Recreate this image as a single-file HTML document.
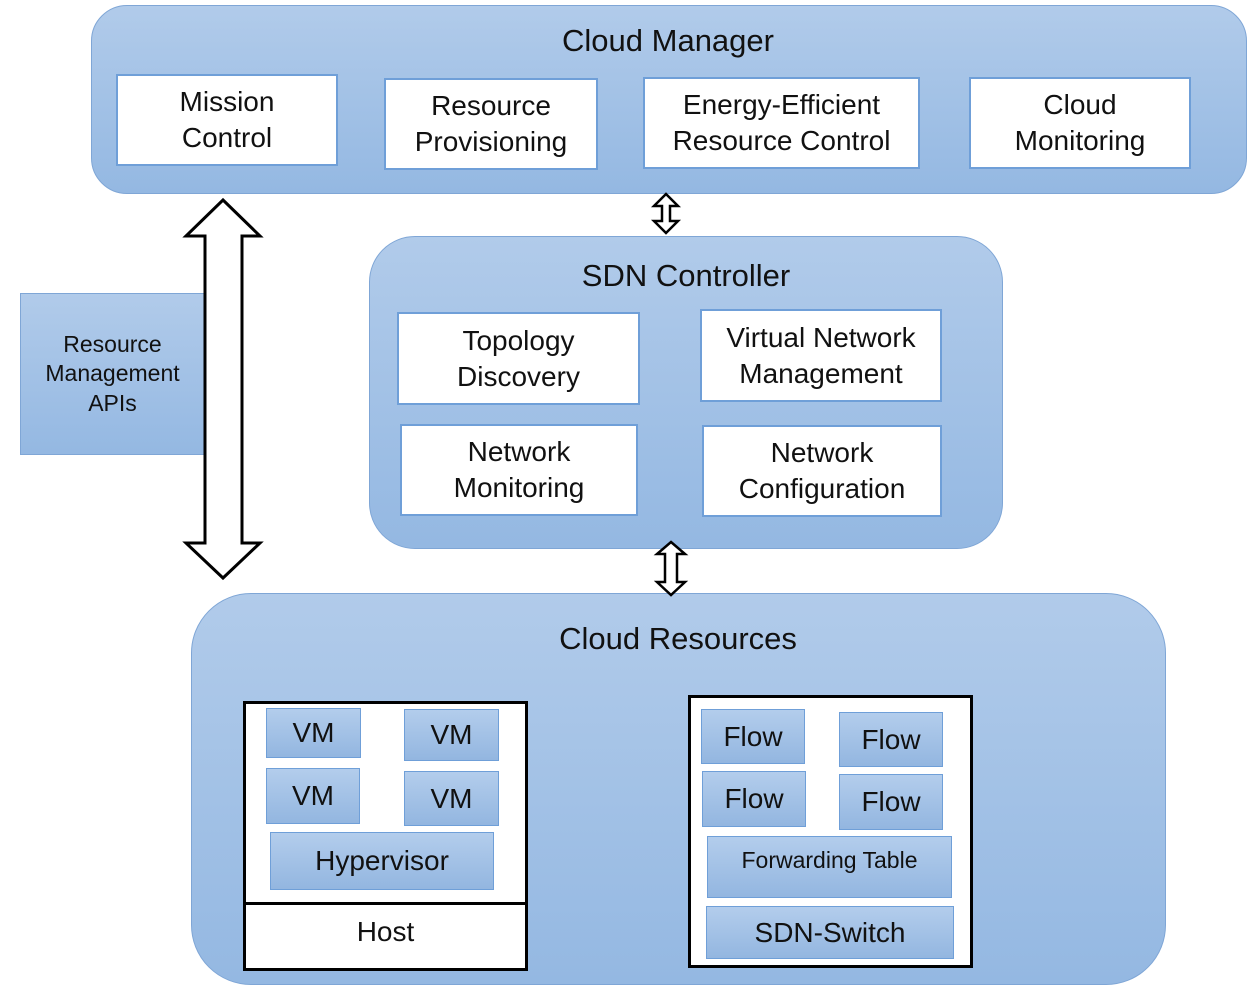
<!DOCTYPE html>
<html><head><meta charset="utf-8"><style>
body{margin:0;width:1260px;height:1006px;background:#fff;position:relative;overflow:hidden;font-family:"Liberation Sans",Arial,sans-serif;color:#111}
.a{position:absolute;box-sizing:border-box;display:flex;align-items:center;justify-content:center;text-align:center;line-height:1.27}
.big{background:linear-gradient(#b1cbea,#94b8e2);border:1px solid #7fa6d6}
.w{background:#fff;border:2px solid #6f9fd8;font-size:28px}
.b{background:linear-gradient(#b3cdec,#93b6e0);border:1px solid #6f9fd8;font-size:28px}
.t{position:absolute;font-size:31px;text-align:center;transform:translateX(-50%);white-space:nowrap}
</style></head><body>
<div class="a big" style="left:91px;top:5px;width:1156px;height:189px;border-radius:36px"></div>
<div class="t" style="left:668px;top:23px">Cloud Manager</div>
<div class="a w" style="left:116px;top:74px;width:222px;height:92px">Mission<br>Control</div>
<div class="a w" style="left:384px;top:78px;width:214px;height:92px">Resource<br>Provisioning</div>
<div class="a w" style="left:643px;top:77px;width:277px;height:92px">Energy-Efficient<br>Resource Control</div>
<div class="a w" style="left:969px;top:77px;width:222px;height:92px">Cloud<br>Monitoring</div>

<div class="a big" style="left:369px;top:236px;width:634px;height:313px;border-radius:46px"></div>
<div class="t" style="left:686px;top:258px">SDN Controller</div>
<div class="a w" style="left:397px;top:312px;width:243px;height:93px">Topology<br>Discovery</div>
<div class="a w" style="left:700px;top:309px;width:242px;height:93px">Virtual Network<br>Management</div>
<div class="a w" style="left:400px;top:424px;width:238px;height:92px">Network<br>Monitoring</div>
<div class="a w" style="left:702px;top:425px;width:240px;height:92px">Network<br>Configuration</div>

<div class="a big" style="left:20px;top:293px;width:185px;height:162px;font-size:23px;border-color:#7fa6d6">Resource<br>Management<br>APIs</div>

<div class="a big" style="left:191px;top:593px;width:975px;height:392px;border-radius:60px"></div>
<div class="t" style="left:678px;top:621px">Cloud Resources</div>

<div class="a" style="left:243px;top:701px;width:285px;height:270px;background:#fff;border:3px solid #000"></div>
<div class="a" style="left:243px;top:902px;width:285px;height:69px;border:3px solid #000;font-size:28px;background:#fff;padding-bottom:10px">Host</div>
<div class="a b" style="left:266px;top:708px;width:95px;height:50px">VM</div>
<div class="a b" style="left:404px;top:709px;width:95px;height:52px">VM</div>
<div class="a b" style="left:266px;top:768px;width:94px;height:56px">VM</div>
<div class="a b" style="left:404px;top:771px;width:95px;height:55px">VM</div>
<div class="a b" style="left:270px;top:832px;width:224px;height:58px">Hypervisor</div>

<div class="a" style="left:688px;top:695px;width:285px;height:273px;background:#fff;border:3px solid #000"></div>
<div class="a b" style="left:701px;top:709px;width:104px;height:55px">Flow</div>
<div class="a b" style="left:839px;top:712px;width:104px;height:55px">Flow</div>
<div class="a b" style="left:702px;top:771px;width:104px;height:56px">Flow</div>
<div class="a b" style="left:839px;top:774px;width:104px;height:56px">Flow</div>
<div class="a b" style="left:707px;top:836px;width:245px;height:62px;font-size:23px;align-items:flex-start;padding-top:9px">Forwarding Table</div>
<div class="a b" style="left:706px;top:906px;width:248px;height:53px">SDN-Switch</div>

<svg width="1260" height="1006" style="position:absolute;left:0;top:0">
<g fill="#fff" stroke="#000" stroke-width="3" stroke-linejoin="miter">
<polygon points="223,200 260,236 242,236 242,543 260,543 223,578 186,543 205,543 205,236 186,236"/>
<polygon points="666,194 678,206 670,206 670,221 678,221 666,233 654,221 662,221 662,206 654,206" stroke-width="2.5"/>
<polygon points="671,542 685,554 677,554 677,582 685,582 671,595 657,582 665,582 665,554 657,554" stroke-width="2.5"/>
</g></svg>
</body></html>
